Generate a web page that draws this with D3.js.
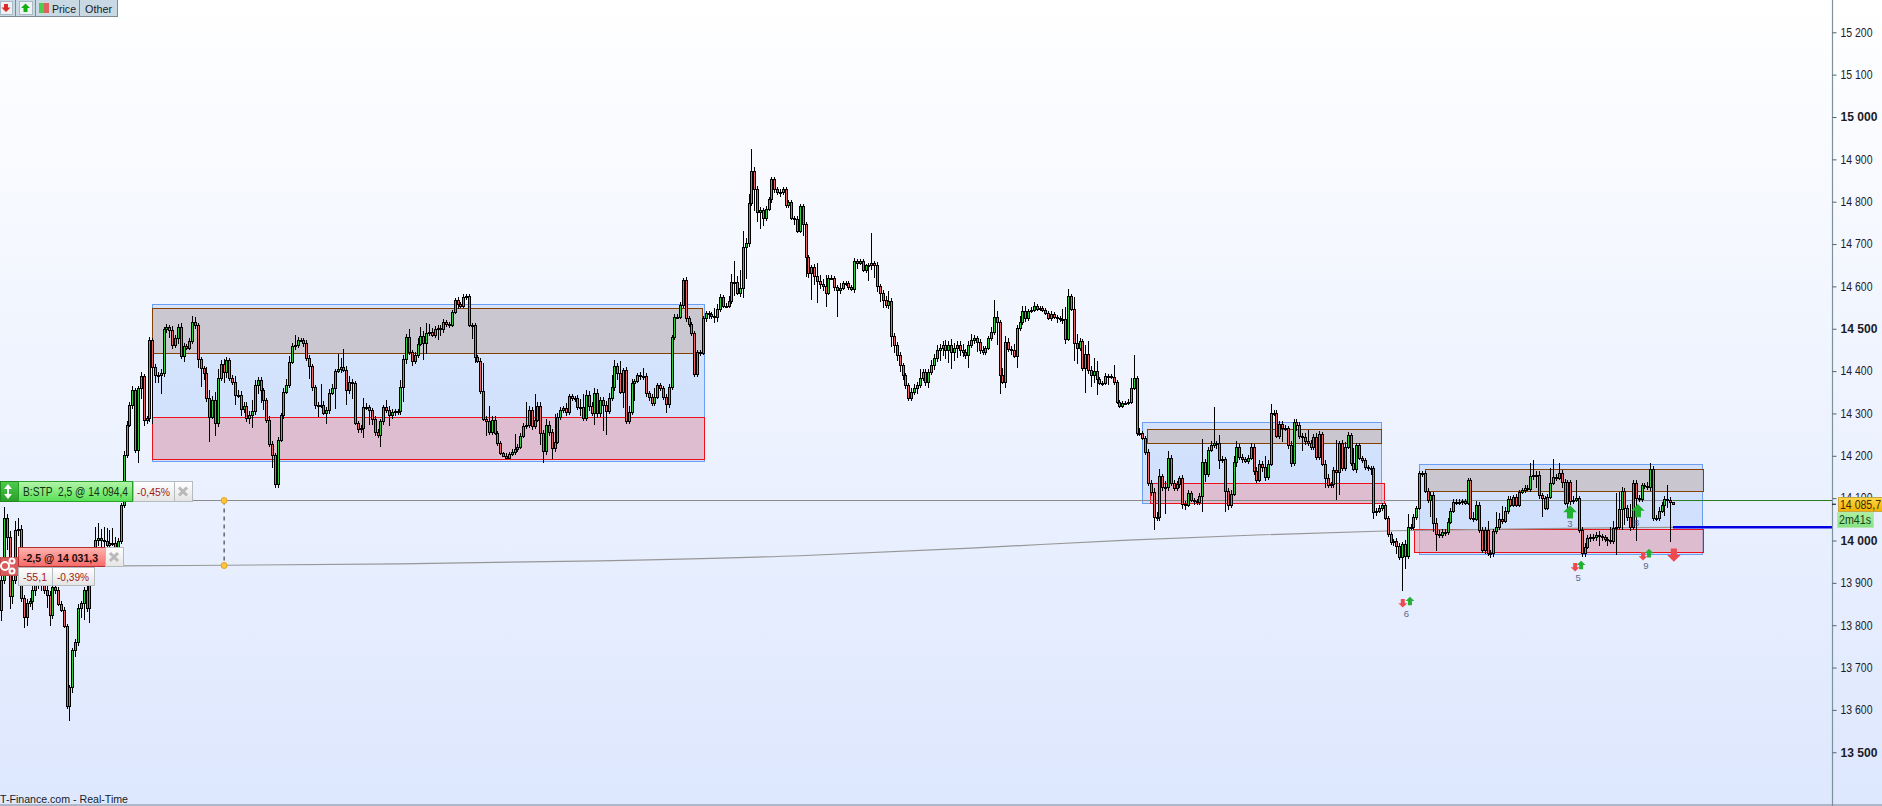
<!DOCTYPE html>
<html><head><meta charset="utf-8">
<script src="https://cdn.jsdelivr.net/npm/d3@7/dist/d3.min.js"></script>
<style>html,body{margin:0;padding:0;overflow:hidden;background:#fff}svg{display:block}text{font-family:"Liberation Sans",Arial,sans-serif}</style>
</head><body><div id="chart"></div>
<script>
const firstOpen = 13836;
const closes = [
13907,14053,14008,13869,13907,14025,14027,13864,13819,13852,13857,13883,13895,13907,13895,13883,13871,13824,13890,13883,13850,13836,13798,13609,13654,13741,13760,13841,13852,13883,13841,13919,13954,14001,14006,14001,13999,13989,13994,13994,13968,13999,14084,14202,14273,14320,14355,14214,
14360,14388,14285,14289,14473,14410,14391,14391,14395,14499,14504,14497,14462,14478,14504,14436,14459,14455,14471,14516,14509,14428,14407,14395,14336,14292,14332,14277,14384,14417,14398,14426,14384,14374,14344,14344,14310,14318,14289,14296,14306,14367,14379,14355,14332,14285,14228,14202,14133,14237,14296,14351,14367,14421,14459,14462,14473,14473,14466,14431,14412,14362,14320,14320,14320,14301,14308,14348,14360,14400,14405,14410,14403,14355,14374,14372,14277,14263,14266,14315,14315,14308,14287,14256,14249,14282,14315,14308,14296,14303,14306,14306,14362,14428,14480,14445,14424,14438,14464,14483,14466,14490,14492,14485,14499,14502,
14499,14516,14511,14509,14540,14568,14558,14554,14575,14577,14509,14509,14433,14424,14353,14287,14282,14256,14285,14254,14230,14207,14200,14195,14204,14209,14216,14221,14247,14270,14273,14308,14270,14285,14318,14254,14211,14273,14256,14218,14233,14292,14308,14313,14303,14341,14336,14336,14315,14315,14289,14344,14318,14301,14348,14301,14332,14320,14306,14336,14362,14412,14395,14351,14403,14282,14303,14372,14377,14391,14388,14388,14348,14339,14325,14339,14367,14360,14339,14322,14362,14480,14528,14528,14556,14615,14525,14511,14490,14393,14445,14443,14525,14537,14535,14530,14528,14547,
14575,14554,14554,14565,14610,14610,14584,14596,14693,14702,14797,14872,14830,14775,14780,14761,14783,14806,14854,14830,14823,14823,14830,14792,14799,14761,14759,14731,14790,14747,14669,14632,14646,14624,14613,14606,14601,14584,14620,14620,14598,14591,14596,14608,14608,14598,14594,14660,14655,14660,14639,14650,14650,14655,14650,14601,14584,14568,14556,14565,14483,
14462,14438,14414,14391,14367,14336,14351,14360,14367,14384,14398,14374,14398,14414,14431,14450,14455,14462,14450,14462,14445,14455,14462,14450,14445,14438,14462,14473,14478,14469,14450,14445,14455,
14478,14492,14528,14516,14391,14374,14469,14452,14450,14436,14502,14516,14542,14525,14542,14544,14554,14547,14549,14544,14537,14525,14535,14528,14525,14523,14523,14476,14577,14547,14466,14455,14471,14407,14440,14403,14391,14400,14381,14372,14372,14388,14388,14386,14374,14327,14318,14325,14325,14327,14360,14384,14254,14254,14242,
14209,14136,14115,14055,14055,14152,14126,14126,14195,14136,14124,14133,14148,14086,14084,14112,14096,14093,14091,14105,14185,14157,14214,14225,14230,14230,14190,14192,14117,14084,14110,14185,14221,14197,14192,14188,14195,14221,14164,14143,14181,14174,14150,14181,14301,14301,14247,14275,14266,14266,14225,14183,14280,14273,14247,14244,14235,14230,14221,14244,14197,14251,14181,14148,14131,14133,14166,14162,14230,14171,14221,14249,14183,14169,14225,14195,14190,14174,14171,14171,14067,14070,14077,14084,14053,14015,13996,13999,13987,13961,13992,13963,14032,14032,14055,14077,
14159,14159,14117,14096,14107,14041,14015,14013,14020,14020,14044,14070,14091,14089,14091,14093,14089,14143,14053,14051,14084,14025,13978,14025,13970,13970,14022,14032,14051,14046,14070,14098,14084,14103,14084,14115,14119,14124,14122,14152,14155,14155,14107,14100,14077,14103,14136,14150,14148,14159,14138,14089,14138,14093,14096,14100,14025,13970,13985,14006,14008,14008,14013,14011,14008,14004,14001,13999,14030,14032,14074,14117,14077,14055,14032,14136,14100,14098,14131,14129,14126,14169,14053,14053,14070,14084,14098,14096,14091,14085.7
];
const upperWicks = [
10,25,10,15,10,20,25,10,8,10,8,10,8,12,8,25,12,10,8,8,8,8,6,4,4,6,8,8,6,8,30,35,30,30,35,20,30,30,30,35,15,6,5,10,10,8,10,5,
5,10,6,4,8,6,6,8,10,5,8,6,10,8,8,10,8,6,6,14,12,5,6,5,15,20,10,18,22,10,12,8,6,6,14,12,8,10,8,10,25,12,8,6,6,5,8,6,5,8,6,8,14,15,8,24,8,6,5,8,6,5,6,6,50,10,8,10,10,5,35,20,43,10,14,8,5,6,6,22,10,6,6,8,8,6,4,16,10,8,5,5,18,10,8,20,5,8,15,22,12,24,20,10,8,
8,6,6,5,5,4,5,6,6,6,5,4,4,5,5,8,66,6,35,10,8,4,4,3,6,5,8,35,6,8,8,55,10,8,61,8,10,6,15,10,8,66,10,8,5,12,6,6,6,8,20,30,12,8,10,12,10,8,8,10,12,28,15,6,28,5,6,15,10,5,5,8,20,8,6,6,20,6,6,5,6,8,6,6,6,8,5,8,6,6,5,5,5,6,5,4,4,20,
12,8,4,6,12,20,51,14,43,37,12,22,52,10,6,8,6,8,6,4,5,5,6,5,5,4,6,5,8,5,5,5,6,5,8,32,15,12,25,6,6,4,5,12,5,5,5,5,6,5,4,5,4,5,72,6,8,5,8,10,25,
8,6,6,8,5,5,6,8,10,8,20,6,8,6,12,10,12,8,10,12,8,14,12,10,8,15,8,10,15,8,6,6,10,
5,6,12,39,13,5,16,15,8,8,15,8,13,12,12,5,8,8,5,5,4,4,4,6,5,5,4,23,28,18,6,28,22,8,5,21,30,8,30,23,5,5,8,6,5,29,6,5,5,5,8,23,55,5,12,
5,5,6,8,8,12,18,6,14,17,6,6,8,5,6,8,8,6,5,4,8,55,8,6,10,86,6,20,8,6,8,10,14,14,6,8,6,8,10,8,10,8,6,25,8,21,6,6,8,8,6,5,10,8,6,6,8,10,27,8,8,10,8,5,8,8,6,8,72,5,8,12,8,6,35,6,6,5,5,4,5,5,6,6,5,4,5,5,5,8,8,5,10,30,6,8,
5,6,6,6,8,8,8,12,10,8,8,8,6,8,6,8,6,5,4,5,14,10,8,8,8,20,8,6,35,15,30,8,6,6,5,6,5,6,6,6,30,35,8,8,6,6,6,35,43,8,23,8,8,6,6,8,42,6,8,8,8,8,8,8,10,5,6,5,30,15,80,41,10,8,8,31,8,8,8,5,5,8,14,8,8,8,6,8,33,6
];
const lowerWicks = [
25,10,30,30,20,10,15,10,25,20,10,20,15,10,15,10,30,25,10,10,5,5,5,8,35,15,15,10,25,40,10,35,15,10,15,25,15,20,10,8,5,8,8,8,8,5,10,8,
30,25,15,10,10,135,20,20,45,8,10,20,10,8,15,8,15,5,5,6,10,20,45,15,10,60,5,30,10,8,25,15,8,8,25,8,15,10,10,15,30,10,20,30,25,8,8,30,10,10,5,8,5,8,5,10,8,5,10,6,30,10,10,28,8,5,25,10,5,50,5,10,5,35,10,38,5,8,10,25,6,35,15,10,8,28,10,6,25,10,10,10,10,35,12,8,12,8,6,5,40,25,8,5,6,
25,15,8,6,8,6,5,12,6,5,6,6,33,15,6,8,6,35,8,6,6,8,5,3,3,3,5,8,6,6,6,6,8,8,6,6,28,28,8,10,25,8,6,8,6,8,6,6,8,6,20,6,8,12,8,28,12,10,61,56,8,6,8,15,6,37,8,6,6,42,6,8,8,8,10,8,8,6,8,8,21,8,6,6,6,5,6,8,8,6,8,6,8,6,10,12,8,15,
12,8,4,6,5,6,33,5,8,24,75,8,6,53,24,39,18,6,4,8,10,8,12,6,6,6,5,15,5,6,27,47,12,64,20,52,12,12,33,5,6,10,63,10,4,6,6,5,10,15,5,6,8,38,12,31,15,20,20,8,10,
25,20,15,15,12,10,6,6,8,15,8,8,10,15,8,12,10,25,20,22,30,40,20,25,15,12,10,30,8,8,25,10,8,
8,6,8,6,55,45,4,13,6,12,6,28,8,8,8,6,5,5,4,5,5,4,5,6,5,12,6,11,11,6,6,41,39,8,6,59,10,29,18,37,5,8,6,22,5,8,4,4,4,4,4,5,4,8,8,
5,8,8,10,31,8,10,8,64,8,8,8,8,8,11,12,6,6,8,6,6,38,20,6,6,6,15,20,8,50,12,8,6,12,8,8,6,8,6,10,8,6,12,10,6,6,6,6,8,33,8,8,10,8,15,8,33,10,8,8,8,8,6,6,25,8,6,10,66,55,8,6,6,8,6,10,6,8,8,6,16,16,8,6,8,5,6,6,8,20,8,80,31,6,8,8,
6,5,8,6,8,40,20,40,6,6,10,8,6,6,5,6,8,6,5,5,8,6,8,8,10,6,12,8,6,8,6,5,8,6,6,5,5,5,6,5,8,8,30,8,45,6,6,6,6,8,6,15,6,15,8,6,6,8,8,8,6,10,8,8,25,8,8,15,8,8,65,8,50,40,8,10,8,100,8,6,8,6,10,8,6,8,6,25,20,95
];
const priceTicks = [15200,15100,15000,14900,14800,14700,14600,14500,14400,14300,14200,14100,14000,13900,13800,13700,13600,13500];
const boldTicks = [15000,14500,14000,13500];
// zones: [startBar, endBar, topPrice, bottomPrice]
const blueZones = [[53,246.6,14558,14188],[399.9,483.6,14280,14089],[497.1,596.4,14181,13968]];
const brownZones = [[53,245.9,14549,14443],[401.5,483.6,14263,14230],[499.1,596.4,14169,14117]];
const redZones = [[53,246.6,14292,14192],[402.6,484.7,14136,14089],[495.1,596.4,14027,13973]];
const stopPrice = 14094.4, entryPrice = 14031.3, lastPrice = 14085.7;
const trailBars = [42,65,140,210,280,340,395,440,488,540,586];
const trailPrices = [13940,13941,13945,13952,13964,13982,14001,14013,14023,14028,14031];
const connectorBar = 78.2, connectorLow = 13941;
const smallArrows = [[491.3,13852,"down"],[493.8,13857,"up"],[551.7,13937,"down"],[553.8,13942,"up"],[575.5,13963,"down"],[577.6,13970,"up"]];
const bigArrows = [[549.9,14067,"up"],[573.7,14070,"up"],[586.3,13966,"down"]];
const countLabels = [[492.6,13826,"6"],[549.9,14039,"3"],[552.8,13911,"5"],[573.3,14041,"8"],[576.5,13940,"9"]];

const W = 1882, H = 806, axisX = 1832;
const n = closes.length;
const x = d3.scaleLinear().domain([0, n - 1]).range([1, 1673]);
const y = d3.scaleLinear().domain([13500, 15200]).range([752.25, 32.3]);
const loc = d3.formatLocale({decimal:",",thousands:"\u00a0",grouping:[3],currency:["",""]});
const svg = d3.select("#chart").append("svg").attr("width", W).attr("height", H);
const defs = svg.append("defs");
function grad(id, stops){ const g = defs.append("linearGradient").attr("id",id).attr("x1",0).attr("y1",0).attr("x2",0).attr("y2",1);
  stops.forEach(s=>g.append("stop").attr("offset",s[0]).attr("stop-color",s[1])); }
grad("bg",[[0,"#ffffff"],[1,"#dde7fe"]]);
grad("gGreen",[[0,"#b4f5a8"],[1,"#55e055"]]);
grad("gDark",[[0,"#4ccc4c"],[1,"#2a9e2a"]]);
grad("gRed",[[0,"#ffb4b0"],[1,"#f56a68"]]);
grad("gWhite",[[0,"#ffffff"],[1,"#e4e4e4"]]);
grad("gGold",[[0,"#ffd84a"],[1,"#f2b000"]]);
grad("gLime",[[0,"#aef0a0"],[1,"#84e084"]]);
svg.append("rect").attr("width",W).attr("height",H).attr("fill","url(#bg)");

const zoneRect = (g, d) => g.append("rect")
  .attr("x", Math.round(x(d[0]))+.5).attr("y", Math.round(y(d[2]))+.5)
  .attr("width", Math.round(x(d[1]) - x(d[0]))).attr("height", Math.round(y(d[3]) - y(d[2])));
const zones = svg.append("g").attr("shape-rendering","crispEdges");
blueZones.forEach(d => zoneRect(zones,d).attr("fill","#a9c8fb").attr("fill-opacity",.38).attr("stroke","#6b9ef0").attr("stroke-width",1));
redZones.forEach(d => zoneRect(zones,d).attr("fill","#e6a6b4").attr("fill-opacity",.62).attr("stroke","#ee1018").attr("stroke-width",1));
brownZones.forEach(d => zoneRect(zones,d).attr("fill","#c9c3cb").attr("fill-opacity",.9).attr("stroke","#854000").attr("stroke-width",1));

// horizontal stop line + trail
svg.append("line").attr("x1",192).attr("x2",x(n-1)).attr("y1",y(stopPrice)).attr("y2",y(stopPrice)).attr("stroke","#8a8a8a").attr("stroke-width",1);
svg.append("line").attr("x1",x(n-1)).attr("x2",axisX).attr("y1",y(stopPrice)).attr("y2",y(stopPrice)).attr("stroke","#2a7a1e").attr("stroke-width",1);
const trail = d3.line().x((d,i)=>x(trailBars[i])).y(d=>y(d)).curve(d3.curveMonotoneX);
svg.append("path").attr("d",trail(trailPrices)).attr("fill","none").attr("stroke","#979797").attr("stroke-width",1.2);
svg.append("line").attr("x1",x(n-1)).attr("x2",axisX).attr("y1",y(entryPrice)).attr("y2",y(entryPrice)).attr("stroke","#0000e0").attr("stroke-width",2.6);

// candles
const candles = closes.map((c,i)=>{ const o = i ? closes[i-1] : firstOpen;
  return {i, o, c, h: Math.max(o,c)+(upperWicks[i]||0), l: Math.min(o,c)-(lowerWicks[i]||0)}; });
const cg = svg.append("g").attr("shape-rendering","crispEdges");
cg.selectAll("line").data(candles).join("line")
  .attr("x1",d=>Math.round(x(d.i))+.5).attr("x2",d=>Math.round(x(d.i))+.5)
  .attr("y1",d=>y(d.h)).attr("y2",d=>y(d.l)).attr("stroke","#000").attr("stroke-width",1);
cg.selectAll("rect").data(candles).join("rect")
  .attr("x",d=>Math.round(x(d.i))-.5).attr("width",2)
  .attr("y",d=>Math.round(y(Math.max(d.o,d.c)))+.5)
  .attr("height",d=>Math.max(1,Math.round(Math.abs(y(d.o)-y(d.c)))))
  .attr("fill",d=>d.c>=d.o?"#2fd03a":"#ec6464").attr("stroke","#000").attr("stroke-width",1);

// connector
const cx0 = x(connectorBar);
svg.append("line").attr("x1",cx0).attr("x2",cx0).attr("y1",y(stopPrice)).attr("y2",y(connectorLow)).attr("stroke","#222").attr("stroke-dasharray","4,4");
[stopPrice,connectorLow].forEach(p=>svg.append("circle").attr("cx",cx0).attr("cy",y(p)).attr("r",3).attr("fill","#ffc83c").attr("stroke","#e6a020"));

// arrows
function arrow(bar,price,dir,s){ const X=x(bar),Y=y(price),d=dir==="up"?-1:1,col=dir==="up"?"#22b030":"#ee4a50";
  const pts=[[0,d*s],[-s,0],[-s*.45,0],[-s*.45,-d*s*.95],[s*.45,-d*s*.95],[s*.45,0],[s,0]];
  svg.append("path").attr("d","M"+pts.map(p=>[X+p[0],Y+p[1]].join(",")).join("L")+"Z").attr("fill",col); }
smallArrows.forEach(a=>arrow(a[0],a[1],a[2],4.4));
bigArrows.forEach(a=>arrow(a[0],a[1],a[2],6.8));
countLabels.forEach(c=>svg.append("text").attr("x",x(c[0])).attr("y",y(c[1])+3).attr("text-anchor","middle").attr("font-size",9.5).attr("fill","#5a6a8a").text(c[2]));

// axis
const axis = d3.axisRight(y).tickValues(priceTicks).tickSize(4).tickPadding(4).tickFormat(loc.format(",d"));
const ag = svg.append("g").attr("transform",`translate(${axisX+.5},0)`).call(axis);
ag.select(".domain").attr("d",`M0,0V${H}`).attr("stroke","#7d919d").attr("stroke-width",1.2);
ag.selectAll(".tick line").attr("stroke","#4e6470");
ag.selectAll(".tick text").attr("font-family",'"Liberation Sans",Arial,sans-serif').attr("font-size",12).attr("fill","#1b1b28")
  .attr("font-weight",d=>boldTicks.includes(d)?"bold":"normal")
  .attr("textLength",d=>boldTicks.includes(d)?37:32).attr("lengthAdjust","spacingAndGlyphs");
svg.append("line").attr("x1",axisX).attr("x2",axisX+4).attr("y1",y(lastPrice)).attr("y2",y(lastPrice)).attr("stroke","#000");
svg.append("line").attr("x1",0).attr("x2",W).attr("y1",805).attr("y2",805).attr("stroke","#7d8a94");

// helpers
function box(x0,y0,w,h,fill,stroke){ return svg.append("rect").attr("x",x0+.5).attr("y",y0+.5).attr("width",w).attr("height",h).attr("fill",fill).attr("stroke",stroke); }
function label(x0,y0,t,col,fs,len,bold){ const el=svg.append("text").attr("x",x0).attr("y",y0).attr("fill",col).attr("font-size",fs).attr("font-weight",bold?"bold":"normal").text(t);
  if(len) el.attr("textLength",len).attr("lengthAdjust","spacingAndGlyphs"); return el; }
function cross(cx,cy){ svg.append("path").attr("d",`M${cx-4},${cy-4}L${cx+4},${cy+4}M${cx+4},${cy-4}L${cx-4},${cy+4}`).attr("stroke","#b9b9b9").attr("stroke-width",3); }

// price labels on axis
box(1838,497,44,14,"url(#gGold)","#c9a640");
label(1840,508.5,"14 085,7","#3a2a00",12,41);
box(1837,512,36,15,"url(#gLime)","#b4e8b0");
label(1839,524,"2m41s","#15401a",12,32);

// green order label
box(0,481,18,20,"url(#gDark)","#1f8a1f");
svg.append("path").attr("d","M8,484L4,489H7V494H4L8,499L12,494H9V489H12Z").attr("fill","#fff");
box(18,481,114,20,"url(#gGreen)","#2aa02a");
label(23,496,"B:STP  2,5 @ 14 094,4","#143214",12,105).attr("xml:space","preserve");
box(133,481,41,20,"url(#gWhite)","#b4bcc0");
label(137,496,"-0,45%","#a01818",11.5,33);
box(174,481,18,20,"url(#gWhite)","#b4bcc0");
cross(183,491.5);

// red order label
box(0,557,18,18,"#d85c5c","#c04848");
[[5,566,4],[12,561,2.5],[12,571,2.5]].forEach(g=>svg.append("circle").attr("cx",g[0]).attr("cy",g[1]).attr("r",g[2]).attr("fill","none").attr("stroke","#fff").attr("stroke-width",2));
box(18,547,87,19,"url(#gRed)","#b23030");
label(23,561.5,"-2,5 @ 14 031,3","#1a0c0c",11.5,75,true);
box(105,547,18,19,"url(#gWhite)","#b4bcc0");
cross(114,557);
box(18,567,34,18,"url(#gWhite)","#b4bcc0");
label(23,581,"-55,1","#a01818",11.5,24);
box(52,567,42,18,"url(#gWhite)","#b4bcc0");
label(57,581,"-0,39%","#a01818",11.5,32);

// toolbar
svg.append("rect").attr("width",117).attr("height",16).attr("fill","#c9d9e3");
svg.append("line").attr("x1",0).attr("x2",117).attr("y1",16.5).attr("y2",16.5).attr("stroke","#7d8a94");
[15,35,79,117].forEach(p=>svg.append("line").attr("x1",p+.5).attr("x2",p+.5).attr("y1",0).attr("y2",17).attr("stroke","#7d8a94"));
box(0,1,12,13,"#eef2f5","#aabbc6");
svg.append("path").attr("d","M6,12L1.5,7.5H4V4H8V7.5H10.5Z").attr("fill","#e02828");
box(19,1,13,13,"#eef2f5","#aabbc6");
svg.append("path").attr("d","M25.5,3.5L30,8H27.5V12H23.5V8H21Z").attr("fill","#10b010");
svg.append("rect").attr("x",39).attr("y",3).attr("width",5).attr("height",10).attr("fill","#4ccc4c");
svg.append("rect").attr("x",44).attr("y",3).attr("width",5).attr("height",10).attr("fill","#e06060");
label(52,13,"Price","#141c28",11.5,24);
label(85,13,"Other","#141c28",11.5,27);

// footer
label(0,803,"T-Finance.com - Real-Time","#141c28",11.5,128);
</script></body></html>
